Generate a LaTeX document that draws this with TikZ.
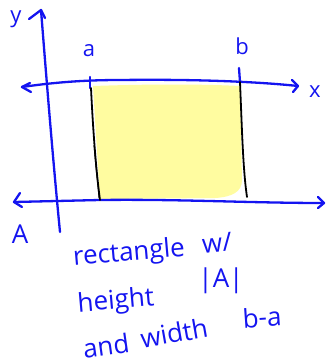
\documentclass[tikz,border=0pt]{standalone}
\usepackage{fontspec}
\setmainfont{Open Sans}
\definecolor{ink}{RGB}{20,20,240}
\definecolor{hl}{RGB}{255,252,160}
\begin{document}
\begin{tikzpicture}[x=1pt,y=-1pt,
  pen/.style={draw=ink,line width=2.3pt,line cap=round,line join=round},
  blk/.style={draw=black,line width=1.8pt,line cap=round},
  hw/.style={text=ink,font=\fontsize{22}{24}\selectfont,inner sep=0pt,anchor=center},
  big/.style={hw,font=\fontsize{26}{28}\selectfont}]
\useasboundingbox (0,0) rectangle (327,362);
% highlight
\fill[hl] (93,86) .. controls (150,84) and (200,84) .. (240,86) -- (242,180)
  .. controls (242,192) and (232,197) .. (215,198) -- (100,199) -- cycle;
% coordinates
\coordinate (ytop) at (41,10);
\coordinate (ybot) at (60,232);
\coordinate (uxl) at (22,87);
\coordinate (uxr) at (298,86);
\coordinate (lxl) at (14,202);
\coordinate (lxr) at (324,203);
% y axis
\draw[pen] (ybot) .. controls (52,150) and (45,60) .. (ytop);
\draw[pen] (29,19) -- (ytop) -- (45,18);
% upper x axis
\draw[pen] (uxl) .. controls (50,83) and (80,80) .. (120,80) .. controls (200,79) and (260,82) .. (uxr);
\draw[pen] (292,80) -- (uxr) -- (293,92);
\draw[pen] (uxl) -- (30,83);
\draw[pen] (uxl) -- (31,92);
% lower x axis
\draw[pen] (lxl) -- (100,200) .. controls (180,199) and (250,203) .. (lxr);
\draw[pen] (20,193) -- (lxl) -- (22,207);
\draw[pen] (318,197) -- (lxr) -- (318,208);
% a and b lines
\draw[pen] (90,77) -- (90,88);
\draw[blk] (91,88) .. controls (93,130) and (96,170) .. (100,200);
\draw[black,line width=0.9pt] (94,145) .. controls (96,170) and (98,185) .. (99,198);
\draw[pen] (239,68) -- (240,82);
\draw[blk] (240,82) .. controls (242,130) and (243,170) .. (247,197);
% labels
\node[hw] (ly) at (16,19) {y};
\node[hw] (lx) at (315,92) {x};
\node[hw] (la) at (89,51) {a};
\node[hw] (lb) at (242,46) {b};
\node[big] (lA) at (20,234) {A};
\node[big,rotate=5] (t1) at (129,254) {rectangle};
\node[big,rotate=5] (t2) at (217,243) {w/};
\node[big,rotate=5] (t3) at (116,302) {height};
\node[big] (t4) at (221,281) {|A|};
\node[big,rotate=8] (t5a) at (106,346) {and};
\node[big,rotate=10] (t5b) at (174,333) {width};
\node[big,rotate=4] (t6) at (262,317) {b-a};
\end{tikzpicture}
\end{document}
